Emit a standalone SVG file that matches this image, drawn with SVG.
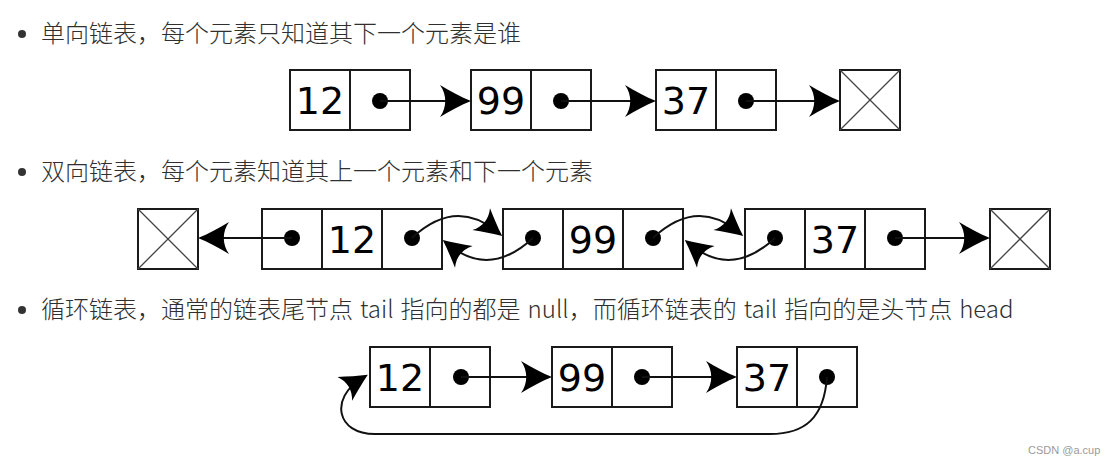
<svg xmlns="http://www.w3.org/2000/svg" width="1109" height="464" viewBox="0 0 1109 464">
<style>
.bg{fill:#ffffff}
.cell{fill:#ffffff;stroke:#1a1a1a;stroke-width:2}
.div{stroke:#1a1a1a;stroke-width:2}
.x{stroke:#444;stroke-width:1.3}
.dot{fill:#000}
.num{font-family:"DejaVu Sans",sans-serif;font-size:38px;fill:#000;text-anchor:middle}
.cap{font-family:"Noto Sans CJK SC","Noto Sans",sans-serif;font-size:24px;font-weight:300;fill:#2f2f2f}
.bul{fill:#333}
.con{fill:none;stroke:#111;stroke-width:2}
.wm{font-family:"Liberation Sans",Arial,sans-serif;font-size:11px;fill:#9a9a9a}
</style>
<defs>
<marker id="arr" markerUnits="userSpaceOnUse" viewBox="-34 -18 36 36" markerWidth="36" markerHeight="36" refX="-8" refY="0" orient="auto">
<path d="M0,0 C-10,-4 -21,-10 -31,-16 C-24,-6 -24,6 -31,16 C-21,10 -10,4 0,0 Z" fill="#000"/>
</marker>
<marker id="arrS" markerUnits="userSpaceOnUse" viewBox="-34 -18 36 36" markerWidth="36" markerHeight="36" refX="-8" refY="0" orient="auto">
<path d="M0,0 C-9,-4 -18,-9 -27,-14 C-21,-5 -21,5 -27,14 C-18,9 -9,4 0,0 Z" fill="#000"/>
</marker>
</defs>
<rect class="bg" x="0" y="0" width="1109" height="464"/>

<g id="captions">
<circle class="bul" cx="22" cy="34" r="4"/>
<text class="cap" x="41" y="42">单向链表，每个元素只知道其下一个元素是谁</text>
<circle class="bul" cx="22" cy="172" r="4"/>
<text class="cap" x="41" y="180">双向链表，每个元素知道其上一个元素和下一个元素</text>
<circle class="bul" cx="22" cy="310" r="4"/>
<text class="cap" x="41" y="318" word-spacing="1.7">循环链表，通常的链表尾节点 tail 指向的都是 null，而循环链表的 tail 指向的是头节点 head</text>
</g>

<!-- Section 1: singly linked list -->
<g id="s1-n12">
<rect class="cell" x="290" y="70" width="120" height="60"/>
<line class="div" x1="350" y1="70" x2="350" y2="130"/>
<text class="num" x="320" y="114">12</text>
<circle class="dot" cx="380" cy="101" r="8"/>
</g>
<g id="s1-n99">
<rect class="cell" x="471" y="70" width="120" height="60"/>
<line class="div" x1="531" y1="70" x2="531" y2="130"/>
<text class="num" x="501" y="114">99</text>
<circle class="dot" cx="561" cy="101" r="8"/>
</g>
<g id="s1-n37">
<rect class="cell" x="656" y="70" width="120" height="60"/>
<line class="div" x1="716" y1="70" x2="716" y2="130"/>
<text class="num" x="686" y="114">37</text>
<circle class="dot" cx="746" cy="101" r="8"/>
</g>
<g id="s1-null">
<rect class="cell" x="840" y="70" width="60" height="60"/>
<line class="x" x1="840" y1="70" x2="900" y2="130"/>
<line class="x" x1="900" y1="70" x2="840" y2="130"/>
</g>

<!-- Section 2: doubly linked list -->
<g id="s2-nullL">
<rect class="cell" x="138" y="209" width="60" height="60"/>
<line class="x" x1="138" y1="209" x2="198" y2="269"/>
<line class="x" x1="198" y1="209" x2="138" y2="269"/>
</g>
<g id="s2-n12">
<rect class="cell" x="262" y="209" width="180" height="60"/>
<line class="div" x1="322" y1="209" x2="322" y2="269"/>
<line class="div" x1="382" y1="209" x2="382" y2="269"/>
<circle class="dot" cx="292" cy="238" r="8"/>
<text class="num" x="352" y="253">12</text>
<circle class="dot" cx="412" cy="238" r="8"/>
</g>
<g id="s2-n99">
<rect class="cell" x="503" y="209" width="180" height="60"/>
<line class="div" x1="563" y1="209" x2="563" y2="269"/>
<line class="div" x1="623" y1="209" x2="623" y2="269"/>
<circle class="dot" cx="533" cy="238" r="8"/>
<text class="num" x="593" y="253">99</text>
<circle class="dot" cx="653" cy="238" r="8"/>
</g>
<g id="s2-n37">
<rect class="cell" x="745" y="209" width="180" height="60"/>
<line class="div" x1="805" y1="209" x2="805" y2="269"/>
<line class="div" x1="865" y1="209" x2="865" y2="269"/>
<circle class="dot" cx="775" cy="238" r="8"/>
<text class="num" x="835" y="253">37</text>
<circle class="dot" cx="895" cy="238" r="8"/>
</g>
<g id="s2-nullR">
<rect class="cell" x="990" y="209" width="60" height="60"/>
<line class="x" x1="990" y1="209" x2="1050" y2="269"/>
<line class="x" x1="1050" y1="209" x2="990" y2="269"/>
</g>

<!-- Section 3: circular linked list -->
<g id="s3-n12">
<rect class="cell" x="370" y="347" width="120" height="60"/>
<line class="div" x1="430" y1="347" x2="430" y2="407"/>
<text class="num" x="400" y="391">12</text>
<circle class="dot" cx="461" cy="377" r="8"/>
</g>
<g id="s3-n99">
<rect class="cell" x="552" y="347" width="120" height="60"/>
<line class="div" x1="612" y1="347" x2="612" y2="407"/>
<text class="num" x="582" y="391">99</text>
<circle class="dot" cx="642" cy="377" r="8"/>
</g>
<g id="s3-n37">
<rect class="cell" x="737" y="347" width="120" height="60"/>
<line class="div" x1="797" y1="347" x2="797" y2="407"/>
<text class="num" x="767" y="391">37</text>
<circle class="dot" cx="827" cy="377" r="8"/>
</g>

<g id="connectors">
<path class="con" d="M380,101 H463" marker-end="url(#arr)"/>
<path class="con" d="M561,101 H648" marker-end="url(#arr)"/>
<path class="con" d="M746,101 H832" marker-end="url(#arr)"/>

<path class="con" d="M292,238 H206" marker-end="url(#arr)"/>
<path class="con" d="M412,238 Q455,198 496,231" marker-end="url(#arrS)"/>
<path class="con" d="M533,238 Q490,278 449,245" marker-end="url(#arrS)"/>
<path class="con" d="M653,238 Q696,198 737,231" marker-end="url(#arrS)"/>
<path class="con" d="M775,238 Q732,278 691,245" marker-end="url(#arrS)"/>
<path class="con" d="M895,238 H982" marker-end="url(#arr)"/>

<path class="con" d="M461,377 H544" marker-end="url(#arr)"/>
<path class="con" d="M642,377 H729" marker-end="url(#arr)"/>
<path class="con" d="M827,377 C824,418 805,434 770,434 L375,434 C336,434 330,398 361,379" marker-end="url(#arrS)"/>
</g>

<text class="wm" x="1028" y="454">CSDN @a.cup</text>
</svg>
